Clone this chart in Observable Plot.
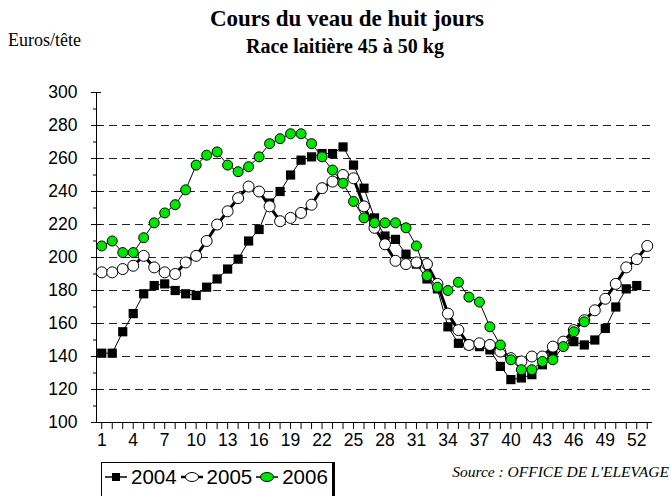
<!DOCTYPE html>
<html>
<head>
<meta charset="utf-8">
<script src="https://cdn.jsdelivr.net/npm/d3@7"></script>
<script src="https://cdn.jsdelivr.net/npm/@observablehq/plot@0.6"></script>
<style>
  html, body { margin: 0; padding: 0; background: #fff; }
  #wrap { position: relative; width: 671px; height: 496px; overflow: hidden; }
  #chart { position: absolute; left: 0; top: 0; }
  .t { position: absolute; white-space: nowrap; color: #000; }
  #title { left: 0; width: 694px; text-align: center; top: 6px; font: bold 23px "Liberation Serif", "Times New Roman", serif; }
  #subtitle { left: 0; width: 690px; text-align: center; top: 35px; font: bold 20px "Liberation Serif", "Times New Roman", serif; }
  #unit { left: 8px; top: 30px; font: 18px "Liberation Serif", "Times New Roman", serif; }
  #source { right: 2px; top: 463px; font: italic 15.5px "Liberation Serif", "Times New Roman", serif; }
  #legend { position: absolute; left: 101px; top: 462px; height: 40px; border: 1px solid #000; border-right: 3px solid #000;
            display: flex; align-items: flex-start; padding: 2px 3px 0 3px; box-sizing: border-box;
            font: 20.5px "Liberation Sans", Arial, sans-serif; }
  #legend .item { display: flex; align-items: center; margin-right: 4px; }
  #legend .item:last-child { margin-right: 1px; }
  #legend svg { margin-right: 4px; }
</style>
</head>
<body>
<div id="wrap">
  <div id="chart"></div>
  <div class="t" id="title">Cours du veau de huit jours</div>
  <div class="t" id="subtitle">Race laitière 45 à 50 kg</div>
  <div class="t" id="unit">Euros/tête</div>
  <div class="t" id="source">Source : OFFICE DE L'ELEVAGE</div>
  <div id="legend"></div>
</div>
<script>
// ---- Data (Euros/tête, by week) ----
const years = ["2004", "2005", "2006"];
const values2004 = [142, 142, 155, 166, 178, 183, 184, 180, 178, 177, 182, 187, 193, 199, 210, 217, 233, 240, 250, 259,
  261, 263, 263, 267, 256, 242, 224, 213, 211, 202, 196, 187, 181, 158, 148, 147, 146, 144, 134, 126,
  127, 129, 135, 142, 147, 149, 147, 150, 157, 170, 181, 183];
const values2005 = [191, 191, 193, 195, 201, 194, 191, 190, 197, 201, 210, 220, 228, 236, 243, 240, 231, 222, 224, 227,
  232, 242, 246, 250, 248, 231, 218, 208, 198, 196, 197, 196, 184, 166, 156, 147, 148, 147, 143, 139,
  137, 140, 140, 146, 149, 156, 162, 168, 175, 184, 194, 199, 207];
const values2006 = [207, 210, 203, 203, 212, 221, 227, 232, 241, 256, 262, 264, 256, 252, 255, 261, 269, 272, 275, 275,
  269, 261, 253, 245, 234, 224, 221, 221, 221, 218, 207, 189, 182, 180, 185, 176, 173, 158, 147, 138,
  132, 132, 137, 138, 146, 155, 161];
const weekTicks = d3.range(1, 54);
const weekLabels = d3.range(1, 54, 3);
const yMajor = d3.range(100, 301, 20);
const yMinor = d3.range(110, 300, 20);
const gridValues = d3.range(120, 281, 20);

const toRows = (vals) => vals.map((v, i) => ({ week: i + 1, value: v }));
const d2004 = toRows(values2004);
const d2005 = toRows(values2005);
const d2006 = toRows(values2006);

const green = "#00e600";

const chart = Plot.plot({
  width: 671,
  height: 496,
  marginLeft: 96,
  marginRight: 19,
  marginTop: 92,
  marginBottom: 74,
  style: { fontFamily: "'Liberation Sans', Arial, sans-serif", fontSize: "17px", background: "transparent", color: "#000" },
  x: { domain: [0.5, 53.5] },
  y: { domain: [100, 300] },
  marks: [
    Plot.ruleY(gridValues, { stroke: "#222", strokeWidth: 1, strokeDasharray: "8,5" }),
    Plot.axisX({ ticks: weekTicks, tickFormat: (d) => weekLabels.includes(d) ? String(d) : "", tickSize: 7, tickPadding: 4, label: null, fontSize: 17.5, stroke: "#000" }),
    Plot.axisY({ ticks: yMajor, tickSize: 5, tickPadding: 14, label: null, fontSize: 17.5 }),
    Plot.axisY({ ticks: yMajor, tickSize: -5, tickFormat: () => "", label: null }),
    Plot.axisY({ ticks: yMinor, tickSize: 3, tickFormat: () => "", label: null }),
    Plot.ruleY([100], { stroke: "#000", strokeWidth: 1 }),
    Plot.ruleX([0.5], { stroke: "#000", strokeWidth: 1 }),
    // 2004
    Plot.line(d2004, { x: "week", y: "value", stroke: "#000", strokeWidth: 1 }),
    Plot.dot(d2004, { x: "week", y: "value", symbol: "square", r: 5.2, fill: "#000", stroke: "none" }),
    // 2005
    Plot.line(d2005, { x: "week", y: "value", stroke: "#000", strokeWidth: 3 }),
    Plot.dot(d2005, { x: "week", y: "value", r: 5.5, fill: "#fff", stroke: "#000", strokeWidth: 1 }),
    // 2006
    Plot.line(d2006, { x: "week", y: "value", stroke: "#000", strokeWidth: 1 }),
    Plot.dot(d2006, { x: "week", y: "value", r: 5, fill: green, stroke: "#000", strokeWidth: 1 })
  ]
});
document.getElementById("chart").appendChild(chart);

// ---- Legend ----
const legend = document.getElementById("legend");
const styles = {
  "2004": { line: 1.5, symbol: "square", fill: "#000", stroke: "none" },
  "2005": { line: 2.5, symbol: "circle", fill: "#fff", stroke: "#000" },
  "2006": { line: 1.5, symbol: "circle", fill: green, stroke: "#000" }
};
years.forEach((yr) => {
  const s = styles[yr];
  const item = document.createElement("div");
  item.className = "item";
  const sym = s.symbol === "square"
    ? `<rect x="7" y="6" width="8" height="8" fill="${s.fill}"/>`
    : `<ellipse cx="11" cy="10" rx="6.5" ry="4.5" fill="${s.fill}" stroke="${s.stroke}" stroke-width="1"/>`;
  item.innerHTML = `<svg width="22" height="20"><line x1="0" y1="10" x2="22" y2="10" stroke="#000" stroke-width="${s.line}"/>${sym}</svg><span>${yr}</span>`;
  legend.appendChild(item);
});
</script>
</body>
</html>
